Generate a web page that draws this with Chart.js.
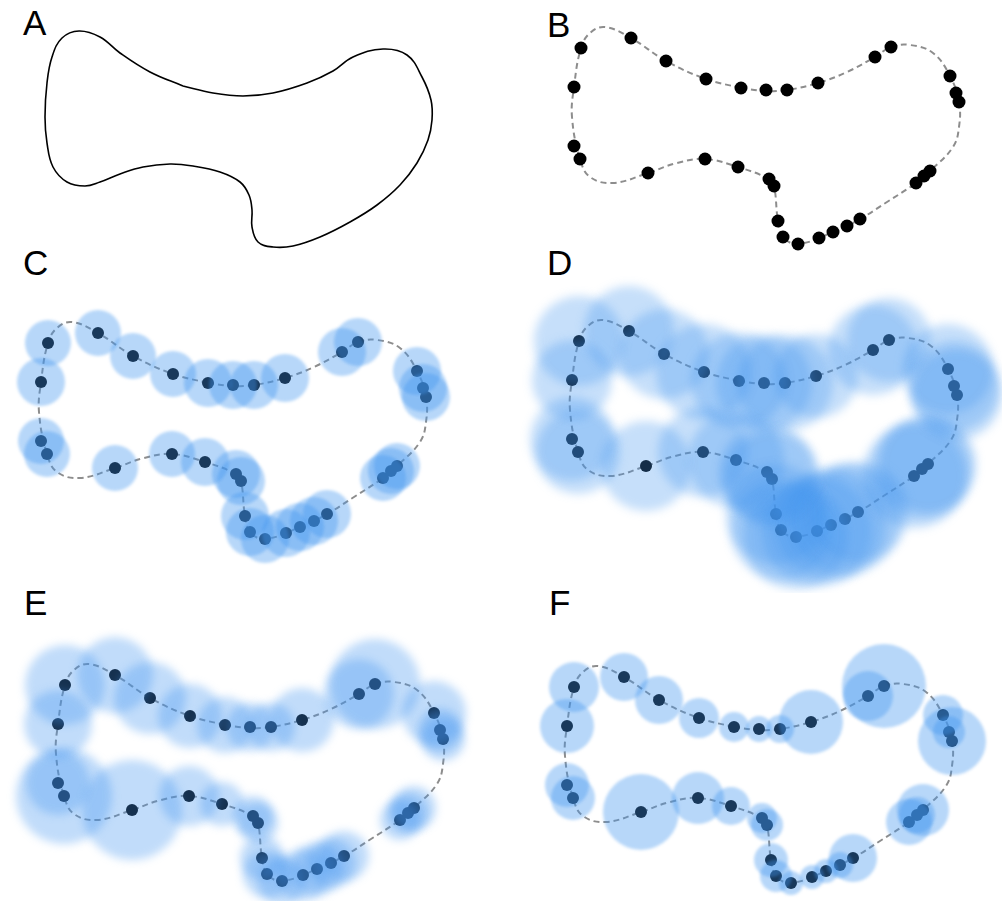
<!DOCTYPE html>
<html>
<head>
<meta charset="utf-8">
<script src="https://cdn.jsdelivr.net/npm/chart.js@4.4.0/dist/chart.umd.min.js"></script>
<style>
  body { margin: 0; width: 1002px; height: 901px; overflow: hidden; background: #fff; position: relative; }
  .panel { position: absolute; width: 530px; height: 360px; }
  .lbl { position: absolute; font-family: "Liberation Sans", Arial, sans-serif; font-size: 35px; line-height: 35px; color: #000; }
</style>
</head>
<body>
<div class="lbl" style="left:23px;top:5px">A</div>
<div class="lbl" style="left:547px;top:7px">B</div>
<div class="lbl" style="left:23px;top:245px">C</div>
<div class="lbl" style="left:547px;top:245px">D</div>
<div class="lbl" style="left:24px;top:585px">E</div>
<div class="lbl" style="left:549px;top:585px">F</div>
<script>
// outline drawn in panel A (solid)
const shapeX = [190, 220, 250, 280, 314, 340, 360, 390, 414, 429, 438, 439, 435, 424, 407, 384, 357, 327, 300, 280, 265, 259, 259, 256, 247, 227, 200, 177, 150, 127, 107, 92, 74, 60, 54, 52, 54, 59, 69, 86, 107, 127, 157];
const shapeY = [102, 109, 112, 109, 99, 87, 73, 65, 71, 93, 116, 136, 156, 179, 201, 221, 238, 253, 262, 263, 258, 243, 226, 211, 198, 188, 182, 180, 183, 190, 198, 202, 198, 183, 159, 133, 99, 73, 54, 47, 53, 69, 88];

// dashed path through the samples (panels B-F)
const pathX = [221, 246, 267, 298, 327, 355, 371, 390, 413, 430, 439, 439, 433, 410, 396, 367, 340, 313, 278, 263, 258, 254, 249, 218, 185, 157, 128, 93, 70, 60, 52, 54, 61, 70, 85, 111, 146, 186];
const pathY = [108, 111, 110, 103, 92, 77, 67, 65, 73, 96, 122, 147, 167, 191, 203, 222, 239, 252, 264, 257, 241, 206, 199, 187, 179, 183, 193, 203, 197, 179, 137, 107, 68, 53, 47, 58, 81, 99];

// sampled points
const pointX = [61, 111, 146, 186, 221, 246, 267, 298, 355, 371, 430, 436, 439, 410, 404, 396, 340, 327, 313, 299, 278, 263, 258, 254, 249, 218, 185, 128, 60, 54, 54];
const pointY = [68, 58, 81, 99, 108, 110, 110, 103, 77, 67, 96, 113, 122, 191, 196, 203, 239, 246, 252, 258, 264, 257, 241, 206, 199, 187, 179, 193, 179, 166, 107];

// circle radius per point in each panel
const radiusC = [23, 23, 23, 23, 24, 24, 24, 24, 24, 24, 24, 24, 24, 23, 23, 23, 24, 24, 24, 24, 24, 24, 24, 24, 24, 24, 23, 23, 23, 23, 24];
const radiusD = [45, 45, 45, 48, 48, 48, 48, 42, 45, 42, 45, 45, 45, 48, 50, 52, 50, 55, 55, 55, 52, 50, 50, 48, 48, 48, 45, 45, 42, 42, 40];
const radiusE = [40, 38, 36, 32, 28, 24, 24, 32, 35, 45, 32, 22, 22, 22, 20, 20, 25, 25, 26, 26, 24, 24, 22, 20, 20, 22, 30, 50, 48, 32, 34];
const radiusF = [25, 24, 24, 20, 15, 13, 14, 32, 25, 42, 20, 16, 34, 26, 18, 23, 24, 13, 12, 12, 12, 16, 17, 16, 15, 19, 26, 38, 22, 22, 27];

const softEdges = {
    id: 'softEdges',
    beforeDatasetDraw(chart, args) {
        const ds = chart.data.datasets[args.index];
        if (ds.blur) {
            chart.ctx.save();
            chart.ctx.filter = 'blur(' + ds.blur + 'px)';
        }
    },
    afterDatasetDraw(chart, args) {
        const ds = chart.data.datasets[args.index];
        if (ds.blur) chart.ctx.restore();
    }
};

function drawPanel(left, top, opts) {
    const box = document.createElement('div');
    box.className = 'panel';
    box.style.left = left + 'px';
    box.style.top = top + 'px';
    const canvas = document.createElement('canvas');
    canvas.width = 530;
    canvas.height = 360;
    box.appendChild(canvas);
    document.body.appendChild(box);

    const xs = opts.dashed ? pathX : shapeX;
    const ys = opts.dashed ? pathY : shapeY;
    const outline = xs.map((x, i) => ({x: x, y: ys[i]}));
    outline.push(outline[0]);

    const datasets = [{
        data: outline,
        showLine: true,
        tension: 0.4,
        pointRadius: 0,
        borderColor: opts.dashed ? '#8d8d8d' : '#000',
        borderWidth: opts.dashed ? 2 : 1.6,
        borderDash: opts.dashed ? [6, 4] : [],
        fill: false,
        clip: false,
        order: 3
    }];
    if (opts.dotR) {
        datasets.push({
            data: pointX.map((x, i) => ({x: x, y: pointY[i]})),
            pointRadius: opts.dotR,
            backgroundColor: '#000',
            borderWidth: 0,
            clip: false,
            order: 2
        });
    }
    if (opts.radii) {
        datasets.push({
            type: 'bubble',
            data: pointX.map((x, i) => ({x: x, y: pointY[i], r: opts.radii[i]})),
            backgroundColor: 'rgba(66, 150, 240, ' + opts.alpha + ')',
            borderWidth: 0,
            blur: opts.blur,
            clip: false,
            order: 1
        });
    }

    new Chart(canvas, {
        type: 'scatter',
        data: {datasets: datasets},
        options: {
            responsive: false,
            animation: false,
            events: [],
            layout: {padding: 0, autoPadding: false},
            plugins: {legend: {display: false}, tooltip: {enabled: false}},
            scales: {
                x: {type: 'linear', min: -30, max: 500, display: false},
                y: {type: 'linear', min: -40, max: 320, reverse: true, display: false}
            }
        },
        plugins: [softEdges]
    });
}

drawPanel(-37, -56, {dashed: false});
drawPanel(490, -60, {dashed: true, dotR: 6.5});
drawPanel(-43.5, 235, {dashed: true, dotR: 6, radii: radiusC, blur: 1.5, alpha: 0.38});
drawPanel(488, 233.4, {dashed: true, dotR: 6, radii: radiusD, blur: 5, alpha: 0.3});
drawPanel(-25.7, 576.7, {dashed: true, dotR: 6, radii: radiusE, blur: 4, alpha: 0.33});
drawPanel(482.7, 578.7, {dashed: true, dotR: 6, radii: radiusF, blur: 1.5, alpha: 0.38});
</script>
</body>
</html>
